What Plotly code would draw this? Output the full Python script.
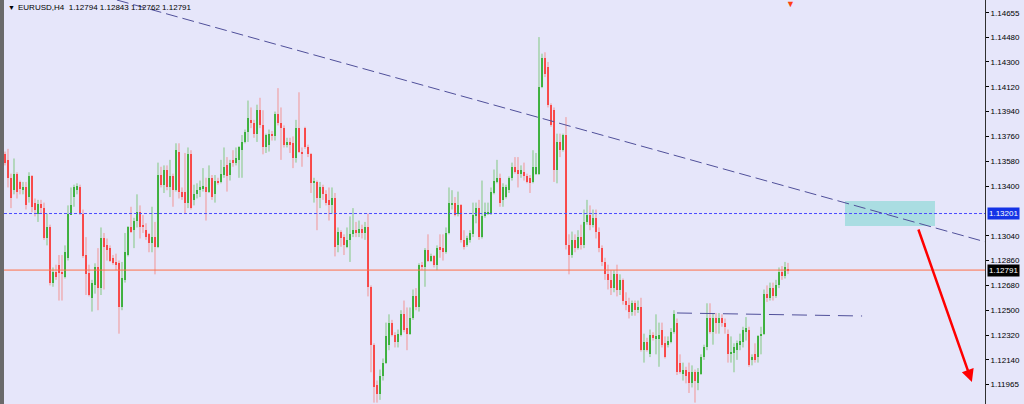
import plotly.graph_objects as go

# ---------------- data (EURUSD H4) ----------------
open_ = [
1.1363,1.1359,1.1346,1.1337,1.1349,1.1343,1.1337,1.1339,1.1332,1.1347,
1.1328,1.1320,1.1327,1.1324,1.1302,1.1310,1.1270,1.1278,1.1283,1.1278,
1.1274,1.1288,1.1319,1.1332,1.1337,1.1339,1.1320,1.1290,1.1277,1.1259,
1.1268,1.1281,1.1266,1.1302,1.1297,1.1295,1.1288,1.1285,1.1284,1.1252,
1.1272,1.1290,1.1310,1.1308,1.1315,1.1321,1.1312,1.1308,1.1305,1.1299,
1.1303,1.1296,1.1348,1.1341,1.1352,1.1339,1.1347,1.1337,1.1365,1.1336,
1.1336,1.1328,1.1363,1.1330,1.1334,1.1337,1.1338,1.1339,1.1336,1.1346,
1.1334,1.1344,1.1343,1.1348,1.1355,1.1348,1.1359,1.1357,1.1359,1.1366,
1.1372,1.1379,1.1388,1.1386,1.1378,1.1395,1.1384,1.1368,1.1370,1.1378,
1.1376,1.1392,1.1386,1.1382,1.1370,1.1372,1.1371,1.1360,1.1382,1.1365,
1.1382,1.1368,1.1363,1.1342,1.1343,1.1331,1.1339,1.1334,1.1330,1.1326,
1.1331,1.1297,1.1307,1.1303,1.1296,1.1301,1.1305,1.1308,1.1306,1.1309,
1.1306,1.1310,1.1267,1.1225,1.1196,1.1189,1.1202,1.1212,1.1225,1.1241,
1.1232,1.1227,1.1232,1.1247,1.1237,1.1233,1.1244,1.1260,1.1252,1.1283,
1.1281,1.1294,1.1286,1.1289,1.1283,1.1296,1.1295,1.1292,1.1306,1.1326,
1.1328,1.1320,1.1326,1.1301,1.1297,1.1301,1.1305,1.1318,1.1324,1.1303,
1.1318,1.1320,1.1320,1.1335,1.1343,1.1346,1.1330,1.1332,1.1337,1.1346,
1.1354,1.1352,1.1349,1.1350,1.1347,1.1346,1.1343,1.1349,1.1349,1.1412,
1.1433,1.1426,1.1399,1.1395,1.1352,1.1372,1.1366,1.1377,1.1297,1.1290,
1.1301,1.1295,1.1303,1.1297,1.1314,1.1319,1.1312,1.1317,1.1307,1.1295,
1.1285,1.1276,1.1272,1.1266,1.1276,1.1265,1.1272,1.1257,1.1254,1.1249,
1.1255,1.1250,1.1252,1.1221,1.1227,1.1218,1.1232,1.1229,1.1229,1.1236,
1.1226,1.1225,1.1227,1.1234,1.1241,1.1212,1.1204,1.1207,1.1205,1.1197,
1.1205,1.1197,1.1204,1.1216,1.1223,1.1244,1.1234,1.1244,1.1241,1.1244,
1.1241,1.1233,1.1218,1.1219,1.1221,1.1225,1.1227,1.1234,1.1236,1.1214,
1.1218,1.1216,1.1231,1.1233,1.1262,1.1259,1.1266,1.1260,1.1268,1.1278,
1.1275,1.12794]

high_ = [
1.1365,1.1367,1.1349,1.1360,1.1350,1.1344,1.1343,1.1343,1.1350,1.1348,
1.1331,1.1330,1.1330,1.1328,1.1320,1.1312,1.1281,1.1283,1.1290,1.1290,
1.1297,1.1326,1.1339,1.1341,1.1342,1.1341,1.1323,1.1303,1.1283,1.1272,
1.1284,1.1295,1.1310,1.1306,1.1302,1.1297,1.1290,1.1291,1.1286,1.1285,
1.1306,1.1311,1.1325,1.1317,1.1334,1.1326,1.1319,1.1313,1.1306,1.1325,
1.1314,1.1357,1.1354,1.1355,1.1355,1.1359,1.1349,1.1371,1.1371,1.1339,
1.1364,1.1368,1.1366,1.1341,1.1342,1.1344,1.1353,1.1346,1.1355,1.1348,
1.1348,1.1346,1.1359,1.1368,1.1361,1.1359,1.1366,1.1368,1.1369,1.1377,
1.1381,1.1402,1.1397,1.1388,1.1399,1.1404,1.1395,1.1378,1.1381,1.1380,
1.1394,1.1411,1.1397,1.1384,1.1375,1.1375,1.1376,1.1388,1.1408,1.1368,
1.1383,1.1370,1.1364,1.1346,1.1344,1.1343,1.1341,1.1337,1.1339,1.1339,
1.1335,1.1310,1.1308,1.1305,1.1310,1.1318,1.1324,1.1314,1.1315,1.1312,
1.1314,1.1320,1.1268,1.1226,1.1199,1.1207,1.1215,1.1241,1.1247,1.1243,
1.1234,1.1236,1.1250,1.1257,1.1252,1.1252,1.1265,1.1266,1.1284,1.1285,
1.1295,1.1305,1.1291,1.1290,1.1297,1.1305,1.1305,1.1310,1.1339,1.1337,
1.1332,1.1336,1.1327,1.1308,1.1304,1.1308,1.1328,1.1328,1.1330,1.1344,
1.1328,1.1328,1.1339,1.1352,1.1359,1.1349,1.1342,1.1341,1.1347,1.1357,
1.1361,1.1361,1.1355,1.1357,1.1349,1.1348,1.1366,1.1364,1.1448,1.1436,
1.1437,1.1430,1.1400,1.1397,1.1378,1.1378,1.1378,1.1390,1.1305,1.1307,
1.1305,1.1308,1.1312,1.1323,1.1330,1.1326,1.1323,1.1323,1.1310,1.1297,
1.1288,1.1283,1.1279,1.1279,1.1283,1.1276,1.1273,1.1263,1.1259,1.1257,
1.1257,1.1257,1.1259,1.1233,1.1230,1.1236,1.1234,1.1247,1.1241,1.1241,
1.1231,1.1231,1.1237,1.1250,1.1244,1.1218,1.1212,1.1209,1.1212,1.1210,
1.1207,1.1208,1.1218,1.1225,1.1255,1.1255,1.1248,1.1248,1.1248,1.1247,
1.1244,1.1236,1.1231,1.1226,1.1228,1.1233,1.1238,1.1245,1.1238,1.1218,
1.1226,1.1232,1.1238,1.1265,1.1268,1.1270,1.1270,1.1272,1.1281,1.1282,
1.1285,1.12843]

low_ = [
1.1355,1.1339,1.1324,1.1334,1.1331,1.1334,1.1334,1.1323,1.1328,1.1321,
1.1318,1.1314,1.1320,1.1301,1.1297,1.1268,1.1267,1.1272,1.1257,1.1257,
1.1273,1.1286,1.1319,1.1325,1.1334,1.1319,1.1288,1.1261,1.1260,1.1249,
1.1262,1.1250,1.1261,1.1265,1.1286,1.1285,1.1283,1.1279,1.1233,1.1250,
1.1270,1.1289,1.1306,1.1295,1.1310,1.1302,1.1306,1.1301,1.1292,1.1292,
1.1276,1.1295,1.1339,1.1335,1.1337,1.1332,1.1325,1.1336,1.1331,1.1330,
1.1320,1.1324,1.1323,1.1326,1.1331,1.1332,1.1336,1.1315,1.1335,1.1330,
1.1328,1.1341,1.1342,1.1346,1.1336,1.1344,1.1354,1.1355,1.1346,1.1346,
1.1371,1.1372,1.1382,1.1375,1.1372,1.1382,1.1363,1.1364,1.1365,1.1373,
1.1373,1.1384,1.1359,1.1368,1.1368,1.1364,1.1353,1.1357,1.1364,1.1354,
1.1367,1.1361,1.1335,1.1328,1.1308,1.1324,1.1330,1.1326,1.1315,1.1320,
1.1289,1.1292,1.1296,1.1290,1.1295,1.1285,1.1303,1.1303,1.1303,1.1302,
1.1301,1.1260,1.1205,1.1183,1.1183,1.1185,1.1199,1.1211,1.1221,1.1231,
1.1223,1.1223,1.1231,1.1234,1.1221,1.1232,1.1243,1.1250,1.1249,1.1279,
1.1267,1.1285,1.1285,1.1281,1.1279,1.1288,1.1286,1.1291,1.1305,1.1323,
1.1318,1.1318,1.1299,1.1294,1.1296,1.1299,1.1303,1.1313,1.1301,1.1302,
1.1317,1.1319,1.1319,1.1334,1.1342,1.1325,1.1325,1.1331,1.1335,1.1344,
1.1349,1.1339,1.1346,1.1344,1.1342,1.1335,1.1342,1.1348,1.1348,1.1411,
1.1419,1.1397,1.1383,1.1343,1.1342,1.1361,1.1365,1.1294,1.1276,1.1288,
1.1292,1.1294,1.1294,1.1295,1.1312,1.1308,1.1310,1.1302,1.1292,1.1282,
1.1272,1.1265,1.1261,1.1263,1.1260,1.1261,1.1254,1.1250,1.1244,1.1246,
1.1246,1.1248,1.1220,1.1212,1.1220,1.1216,1.1228,1.1218,1.1209,1.1223,
1.1215,1.1223,1.1226,1.1233,1.1203,1.1204,1.1199,1.1197,1.1190,1.1194,
1.1183,1.1192,1.1203,1.1214,1.1221,1.1233,1.1225,1.1233,1.1233,1.1238,
1.1233,1.1212,1.1212,1.1205,1.1214,1.1221,1.1223,1.1228,1.1209,1.1210,
1.1212,1.1212,1.1218,1.1232,1.1256,1.1257,1.1257,1.1259,1.1266,1.1272,
1.1273,1.12762]

close_ = [
1.1357,1.1346,1.1331,1.1349,1.1336,1.1338,1.1339,1.1326,1.1347,1.1325,
1.1323,1.1327,1.1324,1.1302,1.1310,1.1270,1.1278,1.1274,1.1277,1.1276,
1.1292,1.1320,1.1326,1.1339,1.1340,1.1320,1.1289,1.1276,1.1261,1.1270,
1.1281,1.1266,1.1302,1.1296,1.1294,1.1286,1.1284,1.1283,1.1252,1.1273,
1.1292,1.1310,1.1307,1.1315,1.1321,1.1310,1.1310,1.1303,1.1299,1.1303,
1.1296,1.1348,1.1341,1.1352,1.1339,1.1347,1.1337,1.1366,1.1336,1.1332,
1.1328,1.1363,1.1324,1.1334,1.1337,1.1339,1.1340,1.1336,1.1346,1.1332,
1.1344,1.1342,1.1349,1.1354,1.1347,1.1357,1.1357,1.1360,1.1368,1.1372,
1.1379,1.1389,1.1386,1.1378,1.1395,1.1384,1.1368,1.1377,1.1378,1.1376,
1.1392,1.1386,1.1382,1.1370,1.1372,1.1370,1.1360,1.1382,1.1365,1.1363,
1.1368,1.1363,1.1342,1.1344,1.1331,1.1339,1.1334,1.1328,1.1326,1.1331,
1.1296,1.1307,1.1302,1.1297,1.1301,1.1305,1.1308,1.1306,1.1309,1.1306,
1.1310,1.1267,1.1225,1.1194,1.1189,1.1202,1.1212,1.1231,1.1241,1.1232,
1.1227,1.1233,1.1247,1.1236,1.1233,1.1244,1.1260,1.1252,1.1283,1.1281,
1.1294,1.1286,1.1289,1.1283,1.1295,1.1294,1.1292,1.1306,1.1328,1.1328,
1.1319,1.1326,1.1301,1.1296,1.1302,1.1306,1.1319,1.1324,1.1303,1.1318,
1.1321,1.1321,1.1336,1.1344,1.1346,1.1328,1.1339,1.1339,1.1346,1.1354,
1.1350,1.1349,1.1352,1.1347,1.1343,1.1342,1.1354,1.1354,1.1412,1.1433,
1.1421,1.1399,1.1384,1.1352,1.1372,1.1366,1.1377,1.1297,1.1290,1.1301,
1.1295,1.1303,1.1297,1.1314,1.1319,1.1312,1.1317,1.1307,1.1295,1.1285,
1.1276,1.1272,1.1266,1.1276,1.1265,1.1272,1.1257,1.1254,1.1249,1.1255,
1.1250,1.1252,1.1221,1.1227,1.1221,1.1232,1.1230,1.1231,1.1232,1.1225,
1.1216,1.1228,1.1234,1.1247,1.1205,1.1205,1.1207,1.1202,1.1197,1.1205,
1.1199,1.1205,1.1216,1.1223,1.1244,1.1234,1.1244,1.1241,1.1244,1.1241,
1.1238,1.1218,1.1220,1.1223,1.1226,1.1228,1.1236,1.1237,1.1210,1.1216,
1.1214,1.1231,1.1233,1.1262,1.1259,1.1266,1.1260,1.1268,1.1278,1.1275,
1.1281,1.12791]

tick_values = [1.14655, 1.14480, 1.14300, 1.14120, 1.13940, 1.13760, 1.13580,
               1.13400, 1.13040, 1.12860, 1.12680, 1.12500, 1.12320, 1.12140, 1.11965]
tick_labels = ["%.5f" % v for v in tick_values]

header_text = "EURUSD,H4  1.12794 1.12843 1.12762 1.12791"
blue_level = 1.13201
price_level = 1.12791

# drawn objects (bar index, price)
trend_x = [37.3, 326.7]
trend_y = [1.14749, 1.12996]
neck_x = [224.0, 285.7]
neck_y = [1.12480, 1.12458]
zone_x = [280.0, 310.0]
zone_y = [1.13111, 1.13292]
arrow_from = [304.3, 1.13096]
arrow_to = [322.3, 1.11980]
shift_marker_x = 261.7

# ---------------- figure ----------------
idx = list(range(len(close_)))
BG = "#E6E6FA"
UP_BODY, DN_BODY = "#009A00", "#FF0000"
UP_WICK, DN_WICK = "#80C880", "#F29494"

is_up = [c >= o for o, c in zip(open_, close_)]

fig = go.Figure()
# wicks
for up, col in ((True, UP_WICK), (False, DN_WICK)):
    wx, wy = [], []
    for i in idx:
        if is_up[i] == up:
            wx += [i, i, None]
            wy += [low_[i], high_[i], None]
    fig.add_trace(go.Scatter(x=wx, y=wy, mode="lines", line=dict(color=col, width=1),
                             hoverinfo="skip", showlegend=False))
# bodies
min_body = 0.00006
base = [min(o, c) for o, c in zip(open_, close_)]
size = [max(abs(c - o), min_body) for o, c in zip(open_, close_)]
fig.add_trace(go.Bar(x=idx, base=base, y=size, width=0.8,
                     marker=dict(color=[UP_BODY if u else DN_BODY for u in is_up],
                                 line=dict(width=0)),
                     hoverinfo="skip", showlegend=False))

fig.update_layout(
    width=1024, height=404,
    margin=dict(l=4, r=39, t=0, b=0, autoexpand=False),
    paper_bgcolor=BG, plot_bgcolor=BG,
    showlegend=False, bargap=0,
    font=dict(family="Liberation Sans, Arial, sans-serif", size=8, color="#000000"),
    xaxis=dict(range=[-0.33, 326.67], visible=False, fixedrange=True),
    yaxis=dict(range=[1.11820, 1.14749], side="right", showgrid=False, zeroline=False,
               tickmode="array", tickvals=tick_values, ticktext=tick_labels,
               ticks="outside", ticklen=3, tickcolor="#000000",
               tickfont=dict(size=8, family="Liberation Sans, Arial, sans-serif"),
               showline=True, linecolor="#303030", linewidth=1, fixedrange=True),
)

shapes = [
    # left frame strip
    dict(type="rect", xref="paper", yref="paper", x0=-4/981, x1=0, y0=0, y1=1,
         fillcolor="#6a6a6a", line=dict(width=0), layer="above"),
    # target zone
    dict(type="rect", xref="x", yref="y", x0=zone_x[0], x1=zone_x[1], y0=zone_y[0], y1=zone_y[1],
         fillcolor="#AADDE2", line=dict(width=0), layer="below"),
    # horizontal levels
    dict(type="line", xref="paper", yref="y", x0=0, x1=1, y0=blue_level, y1=blue_level,
         line=dict(color="#4B4BFF", width=1, dash="3px,2px")),
    dict(type="line", xref="paper", yref="y", x0=0, x1=1, y0=price_level, y1=price_level,
         line=dict(color="#FF6E45", width=1)),
    # trend lines
    dict(type="line", xref="x", yref="y", x0=trend_x[0], x1=trend_x[1], y0=trend_y[0], y1=trend_y[1],
         line=dict(color="#50509A", width=1, dash="12px,5px")),
    dict(type="line", xref="x", yref="y", x0=neck_x[0], x1=neck_x[1], y0=neck_y[0], y1=neck_y[1],
         line=dict(color="#50509A", width=1, dash="15px,8px")),
]
fig.update_layout(shapes=shapes)

# price labels on the axis
fig.add_annotation(xref="paper", yref="y", x=1, y=blue_level, xanchor="left", yanchor="middle",
                   xshift=2, text="1.13201", showarrow=False, bgcolor="#1433E6",
                   font=dict(color="#FFFFFF", size=8), borderpad=1)
fig.add_annotation(xref="paper", yref="y", x=1, y=price_level, xanchor="left", yanchor="middle",
                   xshift=2, text="1.12791", showarrow=False, bgcolor="#000000",
                   font=dict(color="#FFFFFF", size=8), borderpad=1)

# header
fig.add_annotation(xref="paper", yref="paper", x=0, y=1, xanchor="left", yanchor="top",
                   xshift=2, yshift=-2, text="▼", showarrow=False,
                   font=dict(size=7, color="#000000"))
fig.add_annotation(xref="paper", yref="paper", x=0, y=1, xanchor="left", yanchor="top",
                   xshift=12, yshift=-1, text=header_text, showarrow=False,
                   font=dict(size=8, color="#000000"))

# chart shift marker
fig.add_annotation(xref="x", yref="paper", x=shift_marker_x, y=1, yanchor="top", yshift=3,
                   text="▼", showarrow=False, font=dict(size=9, color="#FF4010"))

# forecast arrow
fig.add_annotation(xref="x", yref="y", axref="x", ayref="y",
                   x=arrow_to[0], y=arrow_to[1], ax=arrow_from[0], ay=arrow_from[1],
                   text="", showarrow=True, arrowhead=2, arrowsize=1, arrowwidth=2.5,
                   arrowcolor="#FF0000")

fig.write_html("out.html", config={"displayModeBar": False},
               post_script="document.body.style.margin='0px';")
